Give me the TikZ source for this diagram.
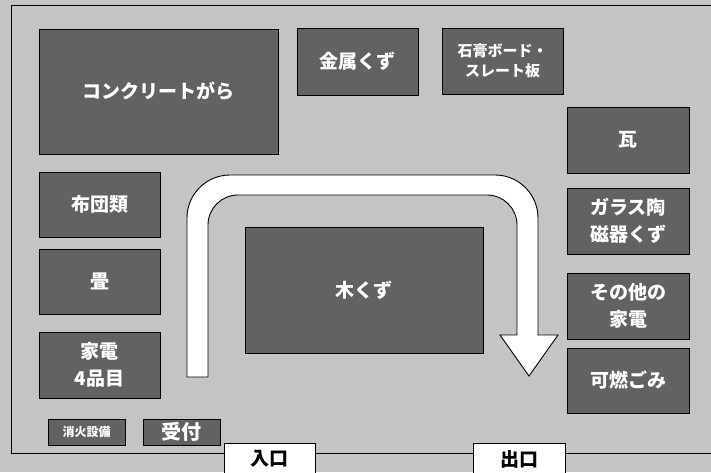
\documentclass[tikz,border=0pt]{standalone}
\usepackage{fontspec}
\setmainfont{Noto Sans CJK JP}
\definecolor{bggray}{RGB}{196,196,196}
\definecolor{boxgray}{RGB}{98,98,98}
\tikzset{
  box/.style={draw=black, line width=0.8pt, fill=boxgray, text=white, align=center, inner sep=0pt,
    font=\bfseries\fontsize{19}{27}\selectfont},
  gate/.style={draw=black, line width=0.8pt, fill=white, text=black, inner sep=0pt,
    font=\bfseries\fontsize{19}{22}\selectfont},
  route/.style={draw=black, line width=0.9pt, fill=white, line join=miter}
}
\begin{document}
\begin{tikzpicture}[x=1pt,y=-1pt]
\useasboundingbox (0,0) rectangle (711,472);
\clip (0,0) rectangle (711,472);
\fill[bggray] (0,0) rectangle (711,472);
\draw[line width=1pt] (11,5) rectangle (730,453);

% route arrow
\draw[route] (187,377) -- (187,218) .. controls (187,194.25) and (206.25,175) .. (230,175)
  -- (495,175) .. controls (518.75,175) and (538,194.25) .. (538,218)
  -- (538,335) -- (558,335) -- (529,376) -- (500,335) -- (517,335)
  -- (517,225) .. controls (517,208.43) and (503.57,195) .. (487,195)
  -- (238,195) .. controls (221.43,195) and (208,208.43) .. (208,225)
  -- (208,377) -- cycle;

% top row
\node[box, minimum width=239pt, minimum height=125pt] (conc) at (158.5,91.5) {コンクリートがら};
\node[box, minimum width=121pt, minimum height=67pt] (metal) at (357.5,61.5) {金属くず};
\node[box, minimum width=121pt, minimum height=66pt, font=\bfseries\fontsize{15}{20}\selectfont] (gypsum) at (502.5,61) {石膏ボード・\\スレート板};

% right column
\node[box, minimum width=122pt, minimum height=66pt] (tile) at (628,140) {瓦};
\node[box, minimum width=122pt, minimum height=66pt] (glass) at (628,221) {ガラス陶\\磁器くず};
\node[box, minimum width=122pt, minimum height=66pt] (appl) at (628,306) {その他の\\家電};
\node[box, minimum width=122pt, minimum height=65pt] (burn) at (628,380.5) {可燃ごみ};

% left column
\node[box, minimum width=121pt, minimum height=65pt] (futon) at (99.5,204.5) {布団類};
\node[box, minimum width=121pt, minimum height=65pt] (tatami) at (99.5,281.5) {畳};
\node[box, minimum width=121pt, minimum height=66pt] (four) at (99.5,365) {家電\\4品目};

% centre
\node[box, minimum width=238pt, minimum height=126pt] (wood) at (364,290) {木くず};

% bottom
\node[box, minimum width=77pt, minimum height=26pt, font=\bfseries\fontsize{12}{14}\selectfont] (fire) at (86.5,432) {消火設備};
\node[box, minimum width=77pt, minimum height=26pt, font=\bfseries\fontsize{20}{22}\selectfont] (desk) at (181.5,432) {受付};
\node[gate, minimum width=91pt, minimum height=32pt] (entry) at (269.5,459) {入口};
\node[gate, minimum width=92pt, minimum height=32pt] (exit) at (519,459) {出口};
\end{tikzpicture}
\end{document}
